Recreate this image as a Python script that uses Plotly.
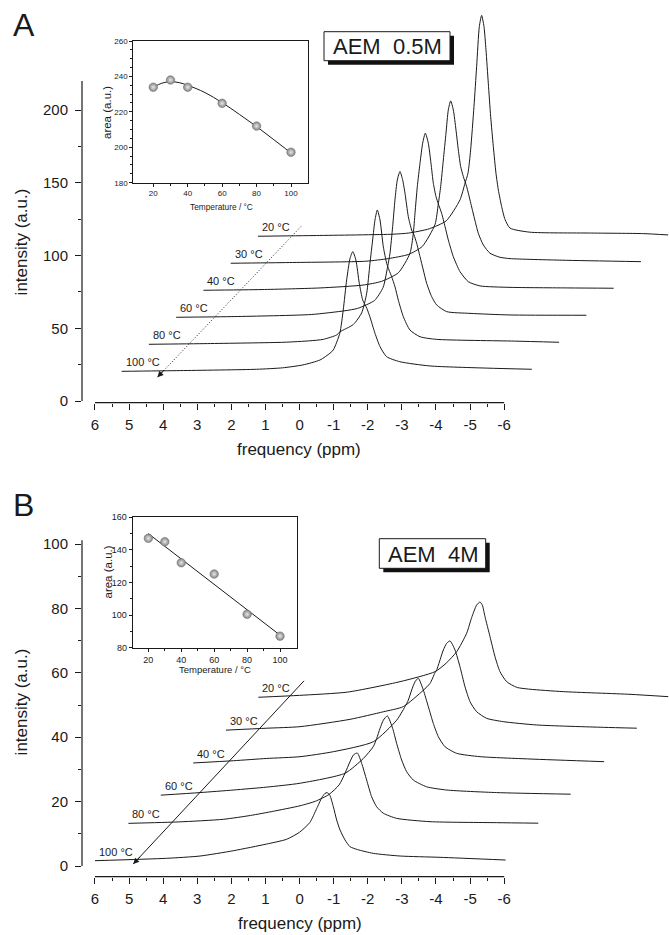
import plotly.graph_objects as go

W, H = 669, 935
FONT = "Arial, 'Liberation Sans', sans-serif"
INK = "#1a1a1a"

# ---------------- data ----------------
labels = ["100 °C", "80 °C", "60 °C", "40 °C", "30 °C", "20 °C"]   # bottom -> top

# Panel A (AEM 0.5M): spectra in their own frame (ppm, intensity)
a100_ppm = [5.22, 3.5, 1.26, 0.5, -0.10, -0.60, -0.89, -0.99, -1.18, -1.28, -1.38, -1.48, -1.56, -1.65, -1.75,
            -1.85, -1.97, -2.06, -2.21, -2.36, -2.55, -2.94, -3.82, -5.5, -6.81]
a100_int = [20.4, 20.9, 21.8, 22.8, 24.8, 28.2, 32.8, 35.1, 46.6, 62.6, 83.2, 98.1, 102.7, 97.0, 81.0,
            69.5, 63.8, 58.0, 46.6, 37.3, 30.5, 27.0, 24.1, 22.6, 21.8]
a80_ppm = [5.22, 3.5, 1.26, 0.5, 0.106, -0.287, -0.385, -0.776, -1.02, -1.167, -1.264, -1.342, -1.411, -1.479,
           -1.558, -1.655, -1.753, -1.821, -1.90, -1.997, -2.095, -2.242, -2.437, -2.731, -3.219, -5.5, -6.81]
a80_int = [20.4, 20.9, 21.8, 22.8, 23.8, 26.8, 29.0, 34.0, 42.0, 55.4, 76.1, 92.1, 105.9, 112.7,
           105.9, 87.5, 76.1, 71.5, 66.9, 60.0, 50.8, 39.4, 30.2, 25.6, 23.8, 22.6, 21.8]
a60_ppm = [5.22, 3.5, 1.26, 0.269, -0.1, -0.6, -0.85, -0.982, -1.051, -1.129, -1.197, -1.266, -1.344, -1.42,
           -1.491, -1.588, -1.686, -1.755, -1.833, -1.931, -2.028, -2.126, -2.273, -2.419, -2.713, -3.397, -4.57, -6.81]
a60_int = [20.4, 20.9, 22.3, 24.9, 26.5, 32.0, 41.0, 55.2, 64.4, 82.7, 101.1, 114.8, 120.6, 115.0,
           105.7, 89.6, 80.4, 77.0, 71.3, 62.1, 52.9, 43.8, 34.6, 28.9, 24.3, 23.1, 22.0, 21.8]
a40_ppm = [5.22, 3.5, 1.8, 0.53, 0.0, -0.5, -0.837, -0.935, -0.984, -1.052, -1.131, -1.209, -1.287, -1.375,
           -1.453, -1.522, -1.60, -1.668, -1.766, -1.864, -1.961, -2.108, -2.304, -2.548, -2.89, -3.77, -5.5, -6.81]
a40_int = [20.4, 20.9, 22.0, 24.0, 26.5, 32.5, 45.8, 59.6, 73.3, 91.7, 107.7, 121.5, 128.4, 121.5,
           107.7, 94.0, 84.8, 79.8, 73.3, 64.2, 55.0, 43.5, 33.2, 26.3, 23.4, 22.4, 22.0, 21.8]
a30_ppm = [5.22, 3.5, 1.26, 0.6, 0.0, -0.4, -0.77, -0.868, -0.937, -1.015, -1.093, -1.161, -1.23, -1.308,
           -1.386, -1.455, -1.523, -1.601, -1.699, -1.797, -1.914, -2.041, -2.188, -2.383, -2.677, -2.97, -4.5, -6.81]
a30_int = [20.4, 20.9, 21.8, 23.6, 26.5, 32.0, 47.0, 61.2, 73.1, 91.4, 109.8, 125.8, 132.0, 125.8,
           112.1, 98.3, 86.9, 80.0, 73.1, 63.9, 52.5, 41.0, 33.0, 27.3, 24.5, 23.6, 22.5, 21.5]
a20_ppm = [5.22, 3.5, 1.26, 0.8, 0.2, -0.3, -0.704, -0.85, -0.938, -1.016, -1.114, -1.192, -1.271, -1.339,
           -1.407, -1.466, -1.534, -1.603, -1.681, -1.759, -1.828, -1.925, -2.023, -2.17, -2.75, -4.5, -6.08, -6.81]
a20_int = [20.4, 20.9, 21.8, 22.6, 25.5, 31.0, 45.4, 56.8, 63.7, 79.8, 109.6, 137.1, 164.6, 172.2,
           164.6, 148.6, 125.6, 102.7, 82.1, 63.7, 52.2, 40.8, 32.0, 26.0, 23.2, 22.6, 22.2, 21.3]

# Panel B (AEM 4M): spectra in their own frame
b100_ppm = [6.0, 3.9, 2.92, 1.94, 0.965, 0.38, 0.0, -0.3, -0.5, -0.65, -0.74, -0.81, -0.89, -0.99, -1.087,
            -1.185, -1.332, -1.478, -1.7, -2.16, -2.95, -4.12, -6.04]
b100_int = [1.65, 2.39, 3.1, 4.75, 6.83, 8.3, 10.5, 13.5, 17.8, 21.2, 22.5, 22.8, 21.9, 18.4, 14.3,
            11.2, 8.1, 6.0, 5.1, 3.93, 3.1, 2.7, 1.86]
b80_ppm = [5.98, 4.5, 3.2, 2.4, 1.73, 0.95, 0.5, 0.1, -0.2, -0.372, -0.518, -0.62, -0.733, -0.86, -1.006, -1.153,
           -1.30, -1.495, -1.886, -2.864, -4.82, -6.04]
b80_int = [3.05, 3.5, 4.3, 5.5, 6.8, 8.5, 9.9, 12.0, 15.0, 18.6, 22.2, 24.3, 24.9, 21.7, 16.5, 11.3,
           8.2, 6.2, 4.6, 3.57, 3.26, 3.1]
b60_ppm = [5.99, 4.84, 3.86, 2.885, 1.91, 0.588, 0.05, -0.243, -0.34, -0.438, -0.536, -0.653, -0.809, -0.926,
           -1.073, -1.219, -1.415, -1.806, -2.392, -3.858, -6.03]
b60_int = [1.6, 2.4, 3.2, 4.1, 5.3, 8.4, 13.0, 16.7, 19.2, 22.3, 24.9, 26.2, 22.35, 17.7,
           12.5, 8.9, 6.3, 4.2, 3.2, 2.4, 1.9]
b40_ppm = [6.0, 4.82, 3.845, 2.868, 1.89, 0.717, 0.033, -0.211, -0.309, -0.407, -0.504, -0.601, -0.748, -0.895,
           -1.041, -1.188, -1.383, -1.725, -2.41, -3.876, -6.05]
b40_int = [1.4, 2.1, 2.8, 3.35, 4.9, 8.0, 14.7, 18.9, 20.95, 24.06, 26.6, 27.7, 24.06, 18.9,
           13.7, 9.57, 6.46, 4.4, 3.36, 2.63, 1.8]
b30_ppm = [6.0, 4.8, 3.828, 2.362, 1.384, 0.798, 0.211, 0.016, -0.131, -0.18, -0.278, -0.375, -0.473, -0.571,
           -0.717, -0.863, -1.01, -1.157, -1.352, -1.645, -2.134, -3.112, -5.067, -6.05]
b30_int = [1.4, 2.0, 2.47, 4.75, 7.1, 8.7, 13.8, 15.9, 19.24, 20.07, 23.2, 26.3, 28.35, 29.1,
           26.3, 21.1, 14.9, 10.24, 7.13, 5.06, 4.03, 3.0, 2.27, 2.0]
b20_ppm = [6.01, 4.8, 3.4, 1.855, 0.829, 0.5, 0.193, -0.1, -0.247, -0.39, -0.49, -0.56, -0.637, -0.784,
           -0.93, -1.077, -1.272, -1.566, -1.956, -2.934, -4.889, -6.01]
b20_int = [1.4, 2.0, 3.0, 6.25, 9.35, 12.0, 15.55, 21.3, 26.2, 30.0, 31.0, 30.0, 26.43, 20.22,
           14.0, 9.35, 6.25, 4.49, 3.9, 3.15, 2.32, 1.59]

A_DX, A_DY = 0.80, 18.57     # waterfall offset per spectrum, panel A
B_DX, B_DY = 0.96, 10.2      # waterfall offset per spectrum, panel B

# insets: integrated area vs temperature
inset_T = [20, 30, 40, 60, 80, 100]
a_area = [233.9, 238.0, 233.9, 224.8, 212.0, 197.2]
a_fit_T = [20, 25, 30, 35, 40, 50, 60, 70, 80, 90, 100]
a_fit_area = [233.8, 236.2, 237.0, 236.5, 235.0, 230.9, 225.2, 218.6, 211.7, 204.3, 196.8]
b_area = [147.1, 145.0, 132.1, 125.2, 100.5, 87.1]
b_fit_T = [20, 100]
b_fit_area = [150.0, 87.7]

# guide arrows (temperature direction)
a_arrow_ppm = [-0.04, 4.17]
a_arrow_int = [119.9, 16.3]
b_arrow_ppm = [-0.13, 4.88]
b_arrow_int = [57.5, 0.6]

x_ticks = [6, 5, 4, 3, 2, 1, 0, -1, -2, -3, -4, -5, -6]
x_ticktext = [str(v) for v in x_ticks]
x_minor = [5.5, 4.5, 3.5, 2.5, 1.5, 0.5, -0.5, -1.5, -2.5, -3.5, -4.5, -5.5]
ya_ticks = [0, 50, 100, 150, 200]
ya_minor = [25, 75, 125, 175]
yb_ticks = [0, 20, 40, 60, 80, 100]
yb_minor = [10, 30, 50, 70, 90]


# ---------------- helpers ----------------
def PX(x):
    return x / W


def PY(y):
    return 1 - y / H


fig = go.Figure()
ann = []
shapes = []

line_style = dict(color=INK, width=1, shape="spline", smoothing=0.6)

a_sets = [(a100_ppm, a100_int), (a80_ppm, a80_int), (a60_ppm, a60_int),
          (a40_ppm, a40_int), (a30_ppm, a30_int), (a20_ppm, a20_int)]
b_sets = [(b100_ppm, b100_int), (b80_ppm, b80_int), (b60_ppm, b60_int),
          (b40_ppm, b40_int), (b30_ppm, b30_int), (b20_ppm, b20_int)]

for sets, dx, dy, xa, ya in [(a_sets, A_DX, A_DY, "x", "y"), (b_sets, B_DX, B_DY, "x3", "y3")]:
    for k, ((xs, ys), lab) in enumerate(zip(sets, labels)):
        X = [v - k * dx for v in xs]
        Y = [v + k * dy for v in ys]
        fig.add_trace(go.Scatter(x=X, y=Y, xaxis=xa, yaxis=ya, mode="lines", line=line_style,
                                 hoverinfo="skip", showlegend=False))
        ann.append(dict(x=X[0], y=Y[0], xref=xa, yref=ya, text=lab, showarrow=False,
                        xanchor="left", yanchor="middle", xshift=2, yshift=9,
                        font=dict(size=11, color=INK)))

# arrows
fig.add_trace(go.Scatter(x=a_arrow_ppm, y=a_arrow_int, xaxis="x", yaxis="y", mode="lines",
                         line=dict(color=INK, width=1, dash="1px,2px"), hoverinfo="skip", showlegend=False))
ann.append(dict(x=a_arrow_ppm[1], y=a_arrow_int[1], ax=a_arrow_ppm[1] - 0.24, ay=a_arrow_int[1] + 6.0,
                xref="x", yref="y", axref="x", ayref="y", text="", showarrow=True,
                arrowhead=2, arrowsize=1.2, arrowwidth=1, arrowcolor=INK))
fig.add_trace(go.Scatter(x=b_arrow_ppm, y=b_arrow_int, xaxis="x3", yaxis="y3", mode="lines",
                         line=dict(color=INK, width=1), hoverinfo="skip", showlegend=False))
ann.append(dict(x=b_arrow_ppm[1], y=b_arrow_int[1], ax=b_arrow_ppm[1] - 0.24, ay=b_arrow_int[1] + 2.7,
                xref="x3", yref="y3", axref="x3", ayref="y3", text="", showarrow=True,
                arrowhead=2, arrowsize=1.2, arrowwidth=1, arrowcolor=INK))

# insets
marker_style = dict(size=8.5, color="#858585", line=dict(color="#666666", width=0.5),
                    gradient=dict(type="radial", color="#e8e8e8"))
fig.add_trace(go.Scatter(x=a_fit_T, y=a_fit_area, xaxis="x2", yaxis="y2", mode="lines",
                         line=dict(color=INK, width=1, shape="spline"), hoverinfo="skip", showlegend=False))
fig.add_trace(go.Scatter(x=inset_T, y=a_area, xaxis="x2", yaxis="y2", mode="markers",
                         marker=marker_style, hoverinfo="skip", showlegend=False))
fig.add_trace(go.Scatter(x=b_fit_T, y=b_fit_area, xaxis="x4", yaxis="y4", mode="lines",
                         line=dict(color=INK, width=1), hoverinfo="skip", showlegend=False))
fig.add_trace(go.Scatter(x=inset_T, y=b_area, xaxis="x4", yaxis="y4", mode="markers",
                         marker=marker_style, hoverinfo="skip", showlegend=False))

# main axis lines (Origin-style, detached)
shapes += [
    dict(type="line", xref="paper", yref="y", x0=PX(82), x1=PX(82), y0=0, y1=220,
         line=dict(color=INK, width=1.2)),
    dict(type="line", xref="x", yref="paper", x0=6, x1=-6, y0=PY(402.7), y1=PY(402.7),
         line=dict(color=INK, width=1.2)),
    dict(type="line", xref="paper", yref="y3", x0=PX(82), x1=PX(82), y0=0, y1=101.2,
         line=dict(color=INK, width=1.2)),
    dict(type="line", xref="x3", yref="paper", x0=6, x1=-6, y0=PY(876.7), y1=PY(876.7),
         line=dict(color=INK, width=1.2)),
]

# sample boxes with drop shadow
for (x0, x1, y0, y1, txt, cx, cy) in [(324, 450, 31.7, 60.7, "AEM\u00a0\u00a00.5M", 387, 46.5),
                                      (379.3, 485.7, 538.7, 568.3, "AEM\u00a0\u00a04M", 432.5, 554)]:
    shapes.append(dict(type="rect", xref="paper", yref="paper", x0=PX(x0 + 4), x1=PX(x1 + 4),
                       y0=PY(y1 + 4), y1=PY(y0 + 4), fillcolor="#111111", line=dict(width=0)))
    shapes.append(dict(type="rect", xref="paper", yref="paper", x0=PX(x0), x1=PX(x1),
                       y0=PY(y1), y1=PY(y0), fillcolor="white", line=dict(color=INK, width=1)))
    ann.append(dict(x=PX(cx), y=PY(cy), xref="paper", yref="paper", text=txt, showarrow=False,
                    xanchor="center", yanchor="middle", font=dict(size=22, color=INK)))

# titles / panel letters
for (txt, cx, cy, size, ang) in [
    ("A", 24, 25, 32, 0), ("B", 23, 505, 32, 0),
    ("intensity (a.u.)", 21.7, 241.7, 17, -90), ("frequency (ppm)", 299, 450, 17, 0),
    ("intensity (a.u.)", 21.7, 701.7, 17, -90), ("frequency (ppm)", 300, 923.5, 17, 0),
    ("area (a.u.)", 107, 113, 11.5, -90), ("Temperature / °C", 221, 207, 8.3, 0),
    ("area (a.u.)", 107, 572.5, 11.5, -90), ("Temperature / °C", 215, 669.5, 9.5, 0),
]:
    ann.append(dict(x=PX(cx), y=PY(cy), xref="paper", yref="paper", text=txt, showarrow=False,
                    xanchor="center", yanchor="middle", textangle=ang, borderpad=0,
                    font=dict(size=size, color=INK)))

main_x = dict(showline=False, zeroline=False, showgrid=False, tickmode="array", tickvals=x_ticks,
              ticktext=x_ticktext, ticks="outside", ticklen=6, tickwidth=1.2, tickcolor=INK,
              tickfont=dict(size=15, color=INK), ticklabelstandoff=2,
              minor=dict(tickmode="array", tickvals=x_minor, ticks="outside", ticklen=3,
                         tickwidth=1.2, tickcolor=INK, showgrid=False))
main_y = dict(showline=False, zeroline=False, showgrid=False, tickmode="array", ticks="outside",
              ticklen=6, tickwidth=1.2, tickcolor=INK, tickfont=dict(size=15, color=INK),
              ticklabelstandoff=4)


def inset_axis(tvals, mvals, fs):
    return dict(showline=True, mirror=True, linecolor=INK, linewidth=1, zeroline=False, showgrid=False,
                tickmode="array", tickvals=tvals, ticktext=[str(v) for v in tvals], ticks="outside",
                ticklen=3, tickwidth=1, tickcolor=INK, tickfont=dict(size=fs, color=INK),
                minor=dict(tickmode="array", tickvals=mvals, ticks="outside", ticklen=2,
                           tickwidth=1, tickcolor=INK, showgrid=False))


fig.update_layout(
    width=W, height=H, margin=dict(l=0, r=0, t=0, b=0, pad=0), autosize=False,
    paper_bgcolor="white", plot_bgcolor="white", showlegend=False,
    font=dict(family=FONT, color=INK),
    xaxis=dict(domain=[PX(82), 1], range=[6.381, -10.833], anchor="y", automargin=False, **main_x),
    yaxis=dict(domain=[PY(402.7), PY(5)], range=[-1.17, 272.2], anchor="x", automargin=False,
               tickvals=ya_ticks, ticktext=[str(v) for v in ya_ticks],
               minor=dict(tickmode="array", tickvals=ya_minor, ticks="outside", ticklen=3,
                          tickwidth=1.2, tickcolor=INK, showgrid=False), **main_y),
    xaxis3=dict(domain=[PX(82), 1], range=[6.381, -10.833], anchor="y3", automargin=False, **main_x),
    yaxis3=dict(domain=[PY(876.7), PY(480)], range=[-3.32, 119.88], anchor="x3", automargin=False,
                tickvals=yb_ticks, ticktext=[str(v) for v in yb_ticks],
                minor=dict(tickmode="array", tickvals=yb_minor, ticks="outside", ticklen=3,
                           tickwidth=1.2, tickcolor=INK, showgrid=False), **main_y),
    xaxis2=dict(domain=[PX(133.3), PX(308.3)], range=[8.4, 110.05], anchor="y2", automargin=False,
                **inset_axis([20, 40, 60, 80, 100], [30, 50, 70, 90], 8)),
    yaxis2=dict(domain=[PY(182.7), PY(41)], range=[180, 260], anchor="x2", automargin=False,
                **inset_axis([180, 200, 220, 240, 260],
                             [185, 190, 195, 205, 210, 215, 225, 230, 235, 245, 250, 255], 8)),
    xaxis4=dict(domain=[PX(132.7), PX(297.3)], range=[10.5, 110.5], anchor="y4", automargin=False,
                **inset_axis([20, 40, 60, 80, 100], [30, 50, 70, 90], 9)),
    yaxis4=dict(domain=[PY(647.7), PY(517.3)], range=[80, 160], anchor="x4", automargin=False,
                **inset_axis([80, 100, 120, 140, 160], [90, 110, 130, 150], 9)),
    annotations=ann, shapes=shapes,
)

fig.write_html("out.html")
